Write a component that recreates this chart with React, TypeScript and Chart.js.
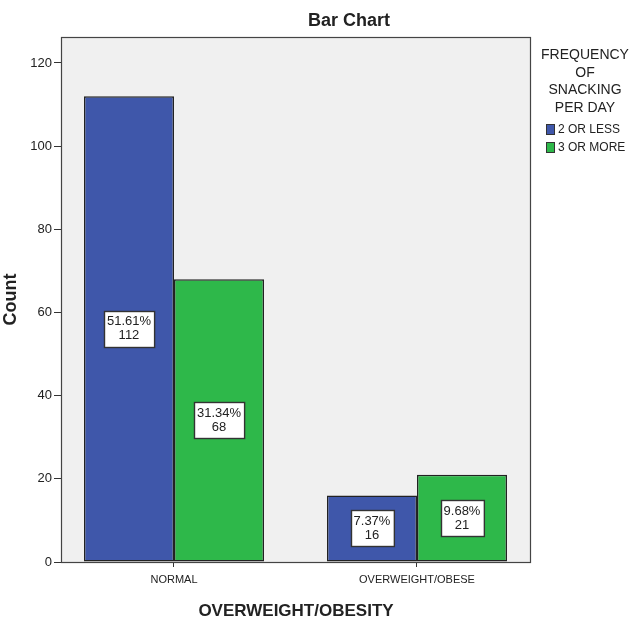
import React, { useEffect, useRef } from "react";
import { Chart, registerables } from "chart.js";

Chart.register(...registerables);

const categories = ["NORMAL", "OVERWEIGHT/OBESE"];
const seriesNames = ["2 OR LESS", "3 OR MORE"];
const lessCounts = [112, 16];
const moreCounts = [68, 21];
const lessPercents = [51.61, 7.37];
const morePercents = [31.34, 9.68];
const yTicks = [0, 20, 40, 60, 80, 100, 120];
const legendTitle = ["FREQUENCY", "OF", "SNACKING", "PER DAY"];
const chartTitle = "Bar Chart";
const xTitle = "OVERWEIGHT/OBESITY";
const yTitle = "Count";

const BLUE = "#3f57aa";
const GREEN = "#2eb84a";
const FONT = "Arial, 'Liberation Sans', sans-serif";
const TEXT = "#222";

const percents = [lessPercents, morePercents];

const decorPlugin = {
  id: "decor",
  beforeDatasetsDraw(chart: any) {
    const { ctx, chartArea: a } = chart;
    ctx.save();
    ctx.fillStyle = "#f0f0f0";
    ctx.fillRect(a.left, a.top, a.right - a.left, a.bottom - a.top);
    ctx.restore();
  },
  afterDatasetsDraw(chart: any) {
    const { ctx, chartArea: a } = chart;
    ctx.save();
    // plot frame
    ctx.strokeStyle = "#444";
    ctx.lineWidth = 1.2;
    ctx.strokeRect(a.left + 0.5, a.top + 0.5, a.right - a.left - 1, a.bottom - a.top);

    // data label boxes
    ctx.font = `13px ${FONT}`;
    ctx.textAlign = "center";
    ctx.textBaseline = "middle";
    chart.data.datasets.forEach((ds: any, di: number) => {
      const meta = chart.getDatasetMeta(di);
      meta.data.forEach((bar: any, i: number) => {
        const l1 = percents[di][i].toFixed(2) + "%";
        const l2 = String(ds.data[i].y);
        const w = Math.max(ctx.measureText(l1).width, ctx.measureText(l2).width) + 6;
        const h = 36;
        const cx = bar.x;
        const cy = (bar.y + bar.base) / 2;
        const x0 = Math.round(cx - w / 2) + 0.5;
        const y0 = Math.round(cy - h / 2) + 0.5;
        ctx.fillStyle = "#ffffff";
        ctx.fillRect(x0, y0, w, h);
        ctx.strokeStyle = "#333";
        ctx.lineWidth = 1.4;
        ctx.strokeRect(x0, y0, w, h);
        ctx.fillStyle = TEXT;
        ctx.fillText(l1, cx, cy - 7);
        ctx.fillText(l2, cx, cy + 7);
      });
    });

    // chart title
    ctx.font = `bold 18px ${FONT}`;
    ctx.fillStyle = TEXT;
    ctx.fillText(chartTitle, 349, 21);

    // legend
    ctx.font = `14px ${FONT}`;
    legendTitle.forEach((t, i) => {
      ctx.fillText(t, 585, 55 + i * 17.7);
    });
    ctx.font = `12px ${FONT}`;
    ctx.textAlign = "left";
    const colors = [BLUE, GREEN];
    seriesNames.forEach((n, i) => {
      const y = 130 + i * 18;
      ctx.fillStyle = colors[i];
      ctx.fillRect(546.5, y - 5.5, 8, 10);
      ctx.strokeStyle = "#333";
      ctx.lineWidth = 1;
      ctx.strokeRect(546.5, y - 5.5, 8, 10);
      ctx.fillStyle = TEXT;
      ctx.fillText(n, 558, y);
    });
    ctx.restore();
  },
};

export default function App() {
  const ref = useRef<HTMLCanvasElement | null>(null);
  useEffect(() => {
    if (!ref.current) return;
    const barStyle = {
      borderColor: "#222",
      borderWidth: 1.5,
      borderSkipped: false,
      categoryPercentage: 0.741,
      barPercentage: 1,
    };
    const chart = new Chart(ref.current, {
      type: "bar",
      data: {
        datasets: [
          {
            label: seriesNames[0],
            data: lessCounts.map((v, i) => ({ x: i, y: v })),
            backgroundColor: BLUE,
            ...barStyle,
          },
          {
            label: seriesNames[1],
            data: moreCounts.map((v, i) => ({ x: i, y: v })),
            backgroundColor: GREEN,
            ...barStyle,
          },
        ] as any,
      },
      options: {
        animation: false,
        responsive: false,
        layout: { padding: { top: 37, left: 0, right: 101, bottom: 0 } },
        plugins: {
          legend: { display: false },
          title: { display: false },
          tooltip: { enabled: false },
        },
        scales: {
          x: {
            type: "linear",
            min: -0.465,
            max: 1.4692,
            offset: false,
            afterBuildTicks: (s: any) => {
              s.ticks = categories.map((_, i) => ({ value: i }));
            },
            afterFit: (s: any) => {
              s.height = 60;
            },
            grid: { drawOnChartArea: false, offset: false, tickLength: 5, color: "#333" },
            border: { display: false },
            ticks: {
              autoSkip: false,
              maxRotation: 0,
              padding: 6,
              color: TEXT,
              font: { family: FONT, size: 11 },
              callback: (v: any) => categories[Math.round(Number(v))] ?? "",
            },
            title: {
              display: true,
              text: xTitle,
              color: TEXT,
              font: { family: FONT, size: 17, weight: "bold" },
              padding: { top: 0, bottom: 0 },
            },
          },
          y: {
            min: 0,
            max: 126.25,
            afterBuildTicks: (s: any) => {
              s.ticks = yTicks.map((v) => ({ value: v }));
            },
            afterFit: (s: any) => {
              s.width = 61;
            },
            grid: { drawOnChartArea: false, tickLength: 7, color: "#333" },
            border: { display: false },
            ticks: {
              padding: 2,
              color: TEXT,
              font: { family: FONT, size: 13 },
            },
            title: {
              display: true,
              text: yTitle,
              color: TEXT,
              font: { family: FONT, size: 18, weight: "bold" },
              padding: { top: 0, bottom: 0 },
            },
          },
        },
      } as any,
      plugins: [decorPlugin],
    });
    return () => chart.destroy();
  }, []);
  return (
    <div style={{ position: "absolute", left: 0, top: 0, width: 632, height: 622, background: "#fff" }}>
      <canvas ref={ref} width={632} height={622} style={{ display: "block" }} />
    </div>
  );
}
